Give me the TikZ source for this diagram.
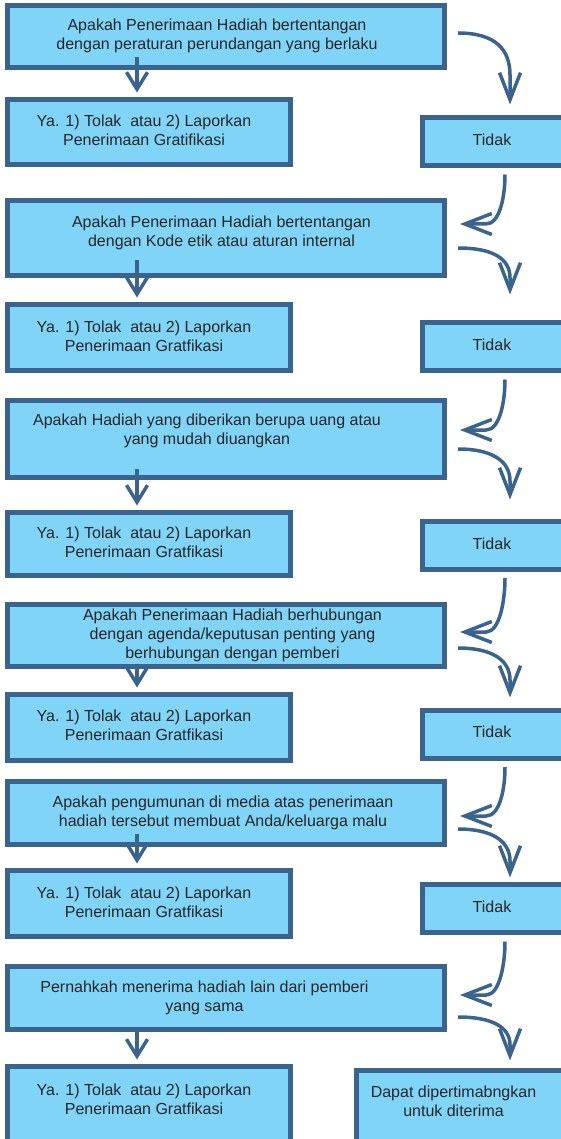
\documentclass[tikz,border=0pt]{standalone}
\usepackage{fontspec}
\setmainfont{Liberation Sans}
\usepackage{xcolor}
\usepackage{tikz}
\usetikzlibrary{arrows.meta}
\usetikzlibrary{shapes}

\definecolor{boxfill}{RGB}{128,212,247}
\definecolor{boxline}{RGB}{58,99,141}
\definecolor{txtgray}{RGB}{38,38,38}

\tikzset{
    box/.style = {draw = boxline, fill = boxfill, line width = 5pt, inner sep = 0pt},
    qbox/.style = {box, minimum width = 437pt},
    ybox/.style = {box, minimum width = 283pt},
    tbox/.style = {box, minimum width = 175pt, minimum height = 48pt},
    txt/.style = {text = txtgray, align = center, inner sep = 0pt, font = \fontsize{16}{19}\selectfont},
    yesarrow/.style = {draw = boxline, line width = 3.5pt, -{Straight Barb[length = 17pt, width = 21pt]}},
    noarrow/.style = {draw = boxline, line width = 3.5pt, -{Straight Barb[length = 27pt, width = 21pt]}},
    backarrow/.style = {draw = boxline, line width = 3.5pt, {Straight Barb[length = 27pt, width = 21pt]}-}
}

\begin{document}
\begin{tikzpicture}[x = 1pt, y = -1pt]
        \useasboundingbox (0, 0) rectangle (561, 1139);

        \node[qbox, minimum height = 62pt] (q1) at (226, 36.5) {};
        \node[txt] (q1t) at (217, 35.5) {Apakah Penerimaan Hadiah bertentangan\\dengan peraturan perundangan yang berlaku};
        \node[ybox, minimum height = 65pt] (y1) at (149, 132) {};
        \node[txt] (y1t) at (144, 130) {Ya. 1) Tolak~ atau 2) Laporkan\\Penerimaan Gratifikasi};
        \node[tbox] (t1) at (510, 141.5) {};
        \node[txt] (t1t) at (492, 140) {Tidak};

        \node[qbox, minimum height = 75pt] (q2) at (226, 238) {};
        \node[txt] (q2t) at (221.5, 232.5) {Apakah Penerimaan Hadiah bertentangan\\dengan Kode etik atau aturan internal};
        \node[ybox, minimum height = 66pt] (y2) at (149, 337.5) {};
        \node[txt] (y2t) at (144, 336) {Ya. 1) Tolak~ atau 2) Laporkan\\Penerimaan Gratfikasi};
        \node[tbox] (t2) at (510, 346.5) {};
        \node[txt] (t2t) at (492, 345) {Tidak};

        \node[qbox, minimum height = 77pt] (q3) at (226, 439) {};
        \node[txt] (q3t) at (207, 430.5) {Apakah Hadiah yang diberikan berupa uang atau\\yang mudah diuangkan};
        \node[ybox, minimum height = 63pt] (y3) at (149, 544) {};
        \node[txt] (y3t) at (144, 542.5) {Ya. 1) Tolak~ atau 2) Laporkan\\Penerimaan Gratfikasi};
        \node[tbox] (t3) at (510, 545) {};
        \node[txt] (t3t) at (492, 543.5) {Tidak};

        \node[qbox, minimum height = 62pt] (q4) at (226, 635.5) {};
        \node[txt] (q4t) at (232.5, 635) {Apakah Penerimaan Hadiah berhubungan\\dengan agenda/keputusan penting yang\\berhubungan dengan pemberi};
        \node[ybox, minimum height = 66pt] (y4) at (149, 727.5) {};
        \node[txt] (y4t) at (144, 725) {Ya. 1) Tolak~ atau 2) Laporkan\\Penerimaan Gratfikasi};
        \node[tbox] (t4) at (510, 734) {};
        \node[txt] (t4t) at (492, 732) {Tidak};

        \node[qbox, minimum height = 63pt] (q5) at (226, 813) {};
        \node[txt] (q5t) at (223, 812.5) {Apakah pengumunan di media atas penerimaan\\hadiah tersebut membuat Anda/keluarga malu};
        \node[ybox, minimum height = 66pt] (y5) at (149, 903.5) {};
        \node[txt] (y5t) at (144, 902.5) {Ya. 1) Tolak~ atau 2) Laporkan\\Penerimaan Gratfikasi};
        \node[tbox] (t5) at (510, 908.5) {};
        \node[txt] (t5t) at (492, 907) {Tidak};

        \node[qbox, minimum height = 63pt] (q6) at (226, 998) {};
        \node[txt] (q6t) at (204.5, 997.5) {Pernahkah menerima hadiah lain dari pemberi\\yang sama};
        \node[ybox, minimum height = 91pt] (y6) at (149, 1112) {};
        \node[txt] (y6t) at (144, 1099) {Ya. 1) Tolak~ atau 2) Laporkan\\Penerimaan Gratfikasi};
        \node[box, minimum width = 241pt, minimum height = 107pt] (fin) at (477, 1124) {};
        \node[txt] (fint) at (453.5, 1101.5) {Dapat dipertimabngkan\\untuk diterima};

        \coordinate (q1out) at (458, 33);
        \coordinate (q2out) at (458, 248);
        \coordinate (q3out) at (458, 449);
        \coordinate (q4out) at (458, 648);
        \coordinate (q5out) at (458, 829);
        \coordinate (q6out) at (458, 1017);
        \coordinate (q2in) at (460, 224);
        \coordinate (q3in) at (460, 430);
        \coordinate (q4in) at (460, 632);
        \coordinate (q5in) at (460, 816);
        \coordinate (q6in) at (460, 995);

        \draw[yesarrow, shorten > = 4.5pt] ([xshift = -12pt]y1.north |- q1.south) ++(0, -13) -- ([xshift = -12pt]y1.north);
        \draw[yesarrow, shorten > = 4.5pt] ([xshift = -12pt]y2.north |- q2.south) ++(0, -18) -- ([xshift = -12pt]y2.north);
        \draw[yesarrow, shorten > = 4.5pt] ([xshift = -12pt]y3.north |- q3.south) ++(0, -11) -- ([xshift = -12pt]y3.north);
        \draw[yesarrow, shorten > = 4.5pt] ([xshift = -12pt]y4.north |- q4.south) ++(0, -4) -- ([xshift = -12pt]y4.north);
        \draw[yesarrow, shorten > = 4.5pt] ([xshift = -12pt]y5.north |- q5.south) ++(0, -13) -- ([xshift = -12pt]y5.north);
        \draw[yesarrow, shorten > = 4.5pt] ([xshift = -12pt]y6.north |- q6.south) ++(0, -5) -- ([xshift = -12pt]y6.north);

        \draw[noarrow, shorten > = 10.5pt] (q1out) .. controls +(38, 0) and +(0, -25) .. ++(52, 42) -- (t1.north);
        \draw[noarrow, shorten > = 25.5pt] (q2out) .. controls +(34, 0) and +(0, -20) .. ++(52, 30) -- (t2.north);
        \draw[noarrow, shorten > = 19pt] (q3out) .. controls +(34, 0) and +(0, -20) .. ++(52, 32) -- (t3.north);
        \draw[noarrow, shorten > = 10pt] (q4out) .. controls +(34, 0) and +(0, -20) .. ++(52, 32) -- (t4.north);
        \draw[noarrow, shorten > = 4.5pt] (q5out) .. controls +(34, 0) and +(0, -20) .. ++(52, 32) -- (t5.north);
        \draw[noarrow, shorten > = 7.5pt] (q6out) .. controls +(34, 0) and +(0, -18) .. ++(52, 28) -- ([xshift = 33pt]fin.north);

        \draw[backarrow, shorten > = 6.5pt] (q2in) -- ++(26, 0) .. controls +(14, 0) and +(0, 28) .. ([xshift = -5pt]t1.south);
        \draw[backarrow, shorten > = 6.5pt] (q3in) -- ++(26, 0) .. controls +(14, 0) and +(0, 28) .. ([xshift = -5pt]t2.south);
        \draw[backarrow, shorten > = 6.5pt] (q4in) -- ++(26, 0) .. controls +(14, 0) and +(0, 28) .. ([xshift = -5pt]t3.south);
        \draw[backarrow, shorten > = 6.5pt] (q5in) -- ++(26, 0) .. controls +(14, 0) and +(0, 28) .. ([xshift = -5pt]t4.south);
        \draw[backarrow, shorten > = 6.5pt] (q6in) -- ++(26, 0) .. controls +(14, 0) and +(0, 28) .. ([xshift = -5pt]t5.south);
\end{tikzpicture}
\end{document}
